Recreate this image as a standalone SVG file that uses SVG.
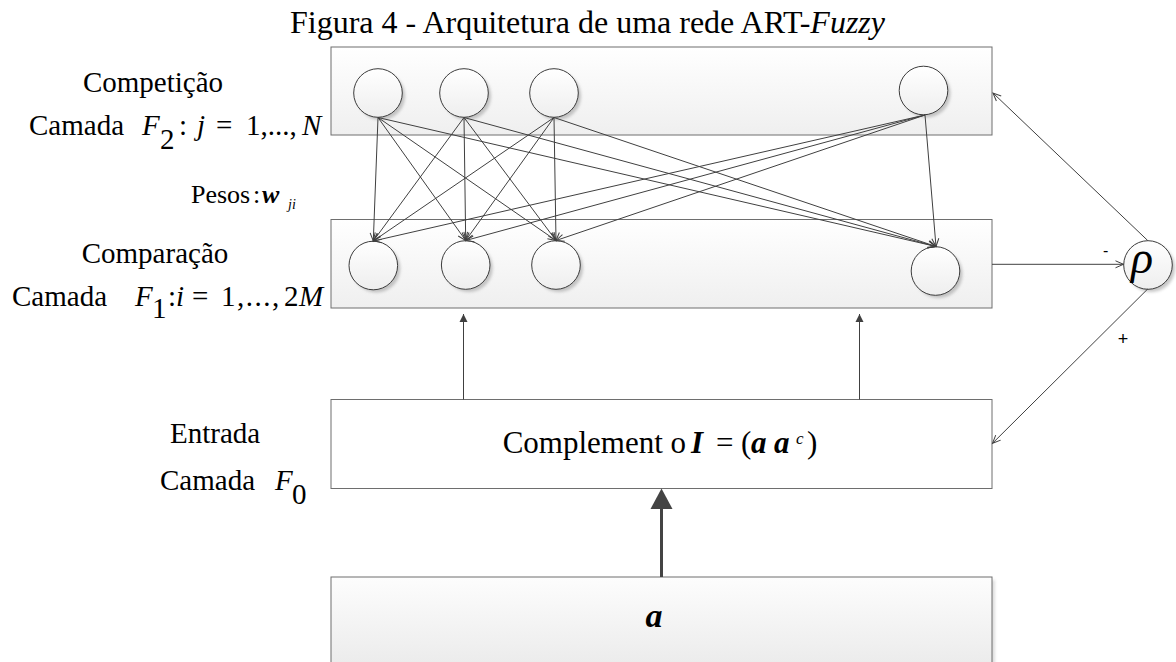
<svg xmlns="http://www.w3.org/2000/svg" width="1176" height="662" viewBox="0 0 1176 662">
  <style>
    .serif { font-family: "Liberation Serif", "Times New Roman", serif; fill: #000; }
    .lbl { font-size: 29px; }
    .it { font-style: italic; }
    .bi { font-style: italic; font-weight: bold; }
    .layer { stroke: #6e6e6e; stroke-width: 1; }
    .unit { fill: url(#unitFill); stroke: #3c3c3c; stroke-width: 1; }
    .halo { fill: #9a9a9a; opacity: 0.55; filter: url(#soft); }
    .wire { stroke: #404040; stroke-width: 1; fill: none; }
    .sign { font-family: "Liberation Sans", Arial, sans-serif; fill: #000; }
  </style>
  <defs>
    <linearGradient id="layerFill" x1="0" y1="0" x2="0" y2="1">
      <stop offset="0" stop-color="#ffffff"/>
      <stop offset="1" stop-color="#efefef"/>
    </linearGradient>
    <linearGradient id="inputFill" x1="0" y1="0" x2="0" y2="1">
      <stop offset="0" stop-color="#fdfdfd"/>
      <stop offset="1" stop-color="#e9e9e9"/>
    </linearGradient>
    <linearGradient id="unitFill" x1="0" y1="0" x2="0" y2="1">
      <stop offset="0" stop-color="#ffffff"/>
      <stop offset="1" stop-color="#eeeeee"/>
    </linearGradient>
    <filter id="soft" x="-30%" y="-30%" width="160%" height="160%">
      <feGaussianBlur stdDeviation="1.6"/>
    </filter>
    <marker id="open" viewBox="-10 -5 12 10" refX="0" refY="0" markerWidth="12" markerHeight="10" markerUnits="userSpaceOnUse" orient="auto">
      <path d="M-8,-3.5 L0,0 L-8,3.5" fill="none" stroke="#404040" stroke-width="1"/>
    </marker>
    <marker id="solid" viewBox="-10 -5 12 10" refX="0" refY="0" markerWidth="12" markerHeight="10" markerUnits="userSpaceOnUse" orient="auto">
      <path d="M-8,-4 L0,0 L-8,4 Z" fill="#404040"/>
    </marker>
  </defs>

  <rect width="1176" height="662" fill="#ffffff"/>

  <!-- caption -->
  <text class="serif" x="290" y="33" font-size="32">Figura 4 - Arquitetura de uma rede ART-<tspan class="it">Fuzzy</tspan></text>

  <!-- side labels -->
  <g id="label-f2">
    <text class="serif lbl" x="153" y="92" text-anchor="middle">Competição</text>
    <text class="serif lbl" y="135"><tspan x="29">Camada</tspan><tspan x="142" class="it">F</tspan><tspan x="160" y="149">2</tspan><tspan x="179" y="135">:</tspan><tspan x="197" class="it">j</tspan><tspan x="216">=</tspan><tspan x="246">1,...,</tspan><tspan x="302" class="it">N</tspan></text>
  </g>
  <g id="label-weights">
    <text class="serif" y="203" font-size="26"><tspan x="191">Pesos</tspan><tspan x="253">:</tspan><tspan x="262" class="bi">w</tspan><tspan x="288" y="209" font-size="14" class="it">ji</tspan></text>
  </g>
  <g id="label-f1">
    <text class="serif lbl" x="155" y="263" text-anchor="middle">Comparação</text>
    <text class="serif lbl" y="306"><tspan x="12">Camada</tspan><tspan x="135" class="it">F</tspan><tspan x="152" y="318">1</tspan><tspan x="168" y="306">:</tspan><tspan x="176" class="it">i</tspan><tspan x="192">=</tspan><tspan x="221" letter-spacing="1.5">1,...,</tspan><tspan x="284">2</tspan><tspan x="299" class="it">M</tspan></text>
  </g>
  <g id="label-f0">
    <text class="serif lbl" x="170" y="443">Entrada</text>
    <text class="serif lbl" y="490"><tspan x="160">Camada</tspan><tspan x="275" class="it">F</tspan><tspan x="292" y="504">0</tspan></text>
  </g>

  <!-- layer F2 -->
  <g id="layer-f2">
    <rect class="layer" x="331" y="47" width="661" height="88" fill="url(#layerFill)"/>
  </g>
  <g id="f2-node-1"><circle class="halo" cx="381" cy="96" r="24"/><circle class="unit" cx="378" cy="93" r="24.3"/></g>
  <g id="f2-node-2"><circle class="halo" cx="467" cy="96" r="24"/><circle class="unit" cx="464" cy="93" r="24.3"/></g>
  <g id="f2-node-3"><circle class="halo" cx="557" cy="96" r="24"/><circle class="unit" cx="554" cy="93" r="24.3"/></g>
  <g id="f2-node-n"><circle class="halo" cx="926.5" cy="93.5" r="24"/><circle class="unit" cx="923.5" cy="90.5" r="24.3"/></g>

  <!-- layer F1 -->
  <g id="layer-f1">
    <rect class="layer" x="331" y="219.5" width="661" height="88.5" fill="url(#layerFill)"/>
  </g>
  <g id="f1-node-1"><circle class="halo" cx="376.3" cy="268.5" r="24"/><circle class="unit" cx="373.3" cy="265.5" r="24.3"/></g>
  <g id="f1-node-2"><circle class="halo" cx="468.7" cy="268" r="24"/><circle class="unit" cx="465.7" cy="265" r="24.3"/></g>
  <g id="f1-node-3"><circle class="halo" cx="559" cy="268" r="24"/><circle class="unit" cx="556" cy="265" r="24.3"/></g>
  <g id="f1-node-m"><circle class="halo" cx="938.5" cy="274" r="24"/><circle class="unit" cx="935.5" cy="271" r="24.3"/></g>

  <!-- vigilance node -->
  <g id="rho">
    <circle class="halo" cx="1151" cy="268" r="24"/>
    <circle class="unit" cx="1148" cy="265" r="24.3"/>
    <text class="serif it" x="1142" y="273" font-size="46" text-anchor="middle">ρ</text>
  </g>

  <!-- layer F0: complement coding -->
  <g id="layer-f0">
    <rect class="layer" x="331" y="399.5" width="661" height="89" fill="#ffffff"/>
    <text class="serif" y="453" font-size="31"><tspan x="502.7">Complement o</tspan><tspan x="691" class="bi">I</tspan><tspan x="716">=</tspan><tspan x="741">(</tspan><tspan x="751" class="bi">a</tspan><tspan x="774" class="bi">a</tspan><tspan x="796" y="444" font-size="17" class="it">c</tspan><tspan x="807" y="453">)</tspan></text>
  </g>

  <!-- input vector -->
  <g id="input-a">
    <rect x="334" y="580" width="661" height="100" fill="#c8c8c8" opacity="0.6" filter="url(#soft)"/>
    <rect class="layer" x="331" y="577" width="661" height="100" fill="url(#inputFill)"/>
    <text class="serif bi" x="654" y="627" font-size="34" text-anchor="middle">a</text>
  </g>

  <!-- connectors -->
  <g id="connectors">
    <!-- weights between F2 and F1 -->
    <line class="wire" x1="378" y1="117.5" x2="373.3" y2="241" marker-end="url(#open)"/>
    <line class="wire" x1="378" y1="117.5" x2="465.7" y2="240.5" marker-end="url(#open)"/>
    <line class="wire" x1="378" y1="117.5" x2="556" y2="240.5" marker-end="url(#open)"/>
    <line class="wire" x1="378" y1="117.5" x2="936" y2="246.5" marker-end="url(#open)"/>

    <line class="wire" x1="464" y1="117.5" x2="373.3" y2="241" marker-end="url(#open)"/>
    <line class="wire" x1="464" y1="117.5" x2="465.7" y2="240.5" marker-end="url(#open)"/>
    <line class="wire" x1="464" y1="117.5" x2="556" y2="240.5" marker-end="url(#open)"/>
    <line class="wire" x1="464" y1="117.5" x2="936" y2="246.5" marker-end="url(#open)"/>

    <line class="wire" x1="554" y1="117.5" x2="373.3" y2="241" marker-end="url(#open)"/>
    <line class="wire" x1="554" y1="117.5" x2="465.7" y2="240.5" marker-end="url(#open)"/>
    <line class="wire" x1="554" y1="117.5" x2="556" y2="240.5" marker-end="url(#open)"/>
    <line class="wire" x1="554" y1="117.5" x2="936" y2="246.5" marker-end="url(#open)"/>

    <line class="wire" x1="925" y1="115" x2="373.3" y2="241" marker-end="url(#open)"/>
    <line class="wire" x1="925" y1="115" x2="465.7" y2="240.5" marker-end="url(#open)"/>
    <line class="wire" x1="925" y1="115" x2="556" y2="240.5" marker-end="url(#open)"/>
    <line class="wire" x1="925" y1="115" x2="936" y2="246.5" marker-end="url(#open)"/>

    <!-- F0 -> F1 -->
    <line class="wire" x1="463.5" y1="399.5" x2="463.5" y2="314" marker-end="url(#solid)"/>
    <line class="wire" x1="859.5" y1="399.5" x2="859.5" y2="314" marker-end="url(#solid)"/>

    <!-- vigilance loop -->
    <line class="wire" x1="992" y1="264.3" x2="1123.5" y2="264.3" marker-end="url(#open)"/>
    <line class="wire" x1="1147.7" y1="240.5" x2="993" y2="93" marker-end="url(#open)"/>
    <line class="wire" x1="1147.7" y1="289" x2="992.5" y2="443.3" marker-end="url(#open)"/>

    <!-- input a -> F0 -->
    <line x1="661.5" y1="577" x2="661.5" y2="506" stroke="#444444" stroke-width="3"/>
    <polygon points="661.5,488.5 650.5,509 672.5,509" fill="#444444"/>
  </g>

  <!-- signs on vigilance inputs -->
  <text class="sign" x="1105.7" y="255.5" font-size="16" text-anchor="middle">-</text>
  <text class="sign" x="1123" y="344.5" font-size="18" text-anchor="middle">+</text>
</svg>
